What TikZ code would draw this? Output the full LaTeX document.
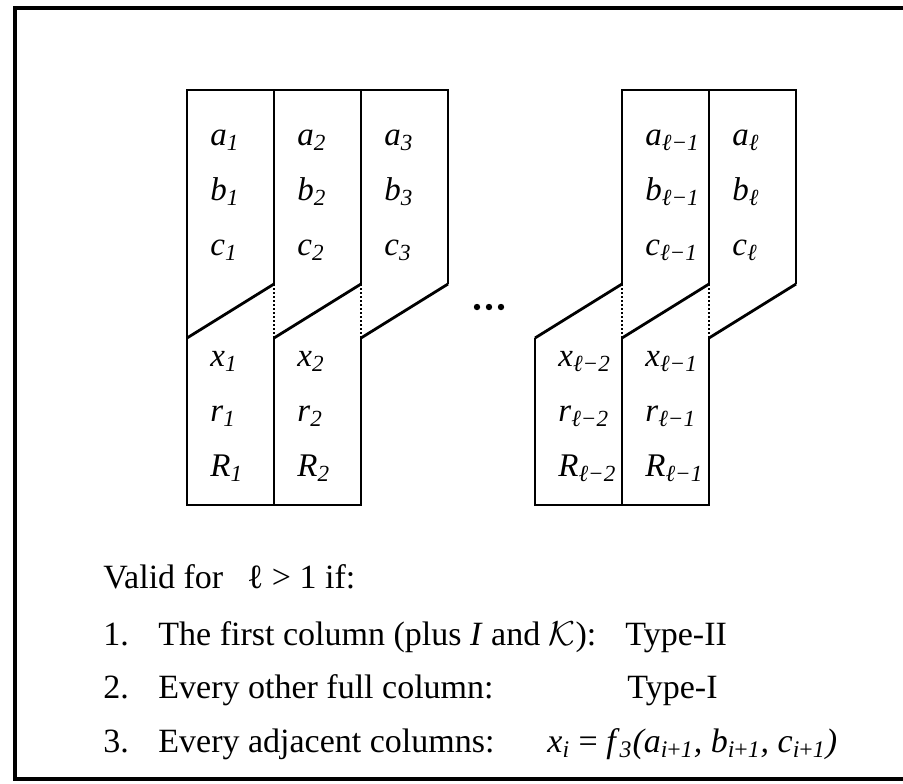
\documentclass[tikz,border=0pt]{standalone}
\usepackage{fontspec}
\setmainfont{Liberation Serif}
\newcommand{\sv}[2]{\textit{#1}\textsubscript{\textit{#2}}}

\begin{document}
\begin{tikzpicture}[
    x=0.5pt, y=-0.5pt,
    cell/.style={draw, line width=1.4pt, line join=miter},
    seam/.style={draw, line width=1pt, dash pattern=on 1pt off 1pt},
    frame/.style={draw, line width=2pt},
    lbl/.style={anchor=base west, inner sep=0pt, font=\fontsize{16.5}{19}\selectfont},
    txt/.style={anchor=base west, inner sep=0pt, font=\fontsize{17}{20}\selectfont}
]
  \useasboundingbox (0,0) rectangle (903,783);
  \draw[frame] (903,8) -- (15,8) -- (15,779) -- (903,779);
  % grid of column edges
  \foreach \k in {0,...,7} {
    \coordinate (T\k) at ({187+87*\k}, 90);
    \coordinate (B\k) at ({187+87*\k}, 284);
    \coordinate (L\k) at ({187+87*\k}, 338);
    \coordinate (D\k) at ({187+87*\k}, 505);
  }
  % left block
  \draw[cell] (B3) -- (T3) -- (T0) -- (D0) -- (D2) -- (L2);
  \draw[cell] (T1) -- (B1) (L1) -- (D1) (T2) -- (B2);
  \foreach \k/\j in {0/1, 1/2, 2/3} {
    \draw[cell] (B\j) -- (L\k);
  }
  \draw[seam] (B1) -- (L1) (B2) -- (L2);
  % right block
  \draw[cell] (B7) -- (T7) -- (T5) -- (B5);
  \draw[cell] (L4) -- (D4) -- (D6) -- (L6);
  \draw[cell] (T6) -- (B6) (L5) -- (D5);
  \foreach \k/\j in {4/5, 5/6, 6/7} {
    \draw[cell] (B\j) -- (L\k);
  }
  \draw[seam] (B5) -- (L5) (B6) -- (L6);
  % dots between the blocks
  \foreach \x in {477, 489, 501} {
    \fill (\x, 307) circle (3.2);
  }
  % upper cells
  \foreach \k/\s in {0/1, 1/2, 2/3, 5/ℓ−1, 6/ℓ} {
    \node[lbl] (a\k) at ({210+87*\k}, 145) {\sv{a}{\s}};
    \node[lbl] (b\k) at ({210+87*\k}, 200) {\sv{b}{\s}};
    \node[lbl] (c\k) at ({210+87*\k}, 255) {\sv{c}{\s}};
  }
  % lower cells
  \foreach \k/\s in {0/1, 1/2, 4/ℓ−2, 5/ℓ−1} {
    \node[lbl] (x\k) at ({210+87*\k}, 366) {\sv{x}{\s}};
    \node[lbl] (r\k) at ({210+87*\k}, 421) {\sv{r}{\s}};
    \node[lbl] (rr\k) at ({210+87*\k}, 476) {\sv{R}{\s}};
  }
  % conditions
  \node[txt] (valid) at (103, 588) {Valid for\hspace{0.7em}ℓ > 1 if:};
  \foreach \i/\y in {1/645, 2/698, 3/752} {
    \node[txt] (n\i) at (103, \y) {\i.};
  }
  \node[txt] (t1) at (158, 645) {The first column (plus \textit{I} and $\mathcal{K}$):};
  \node[txt] (t2) at (158, 698) {Every other full column:};
  \node[txt] (t3) at (158, 752) {Every adjacent columns:};
  \node[txt] (ty1) at (625, 645) {Type-II};
  \node[txt] (ty2) at (627, 698) {Type-I};
  \node[txt] (eq) at (547, 752) {\sv{x}{i} = \textit{f}\textsubscript{\textit{3}}\textit{(a}\textsubscript{\textit{i}+\textit{1}}\textit{, b}\textsubscript{\textit{i}+\textit{1}}\textit{, c}\textsubscript{\textit{i}+\textit{1}}\textit{)}};
\end{tikzpicture}
\end{document}
